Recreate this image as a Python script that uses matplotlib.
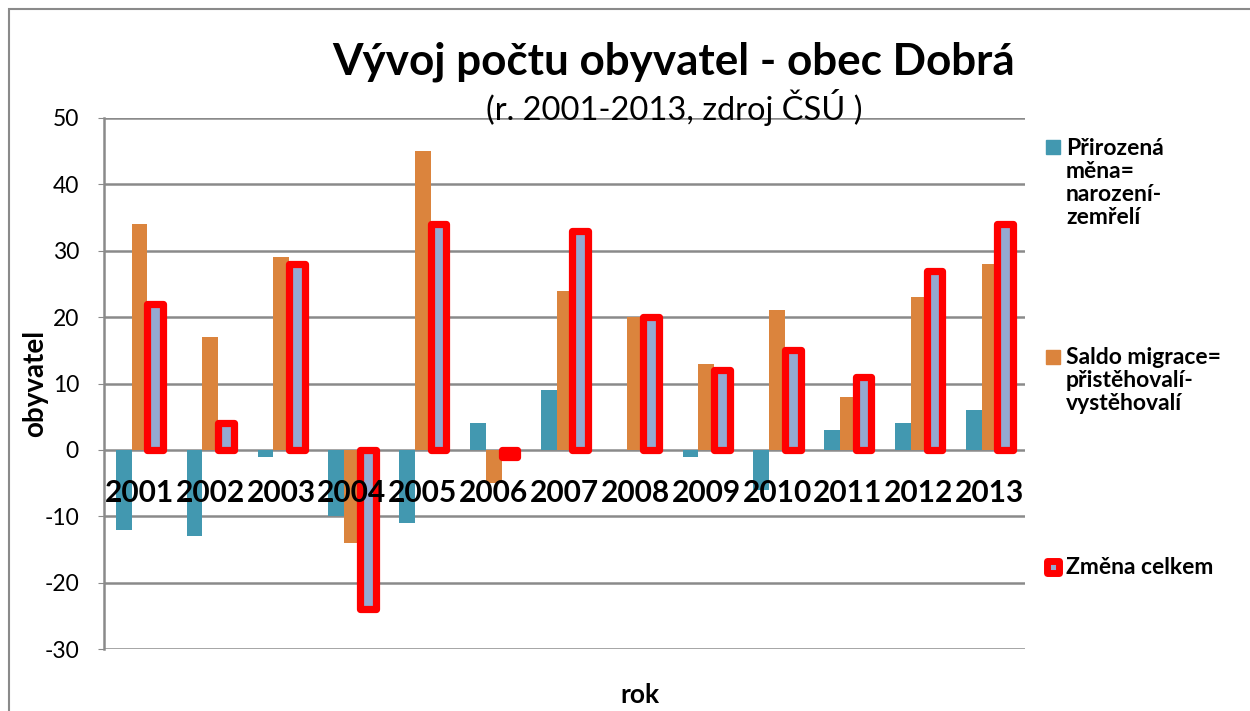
import numpy as np
import matplotlib
matplotlib.use("Agg")
import matplotlib.pyplot as plt
from matplotlib.patches import Rectangle

plt.rcParams["font.family"] = ["Lato", "DejaVu Sans"]
plt.rcParams["axes.unicode_minus"] = False

# data
roky = ["2001", "2002", "2003", "2004", "2005", "2006", "2007",
        "2008", "2009", "2010", "2011", "2012", "2013"]
prirozena = [-12, -13, -1, -10, -11, 4, 9, 0, -1, -6, 3, 4, 6]
saldo = [34, 17, 29, -14, 45, -5, 24, 20, 13, 21, 8, 23, 28]
zmena = [22, 4, 28, -24, 34, -1, 33, 20, 12, 15, 11, 27, 34]

C_TEAL = "#4298B0"
C_ORANGE = "#DB843D"
C_LAV = "#94A9D1"
C_RED = "#FF0000"
C_GRID = "#8A8A8A"

W, H = 1250, 711
fig = plt.figure(figsize=(W / 100, H / 100), dpi=100)

def fx(x):
    return x / W

def fy(y):
    return 1 - y / H

ax = fig.add_axes([fx(104), fy(649), fx(1025) - fx(104), fy(118) - fy(649)])

x = np.arange(len(roky))
w = 0.222
ax.bar(x - w, prirozena, w, color=C_TEAL, zorder=2)
ax.bar(x, saldo, w, color=C_ORANGE, zorder=2)
ax.bar(x + w, zmena, w, color=C_LAV, edgecolor=C_RED, linewidth=5.2,
       joinstyle="round", zorder=3)

ax.set_xlim(-0.5, len(roky) - 0.5)
ax.set_ylim(-30, 50)
ax.set_yticks(np.arange(-30, 51, 10))
ax.yaxis.grid(True, color=C_GRID, linewidth=1.8, zorder=0)
ax.set_axisbelow(True)

for s in ["top", "right", "bottom"]:
    ax.spines[s].set_visible(False)
ax.spines["left"].set_color(C_GRID)
ax.spines["left"].set_linewidth(1.8)

# year labels sit just under the zero line, on top of the bars
ax.set_xticks([])
for i, r in enumerate(roky):
    ax.annotate(r, (i, 0), xytext=(0, -37.5), textcoords="offset points",
                ha="center", va="baseline", fontsize=21.5,
                fontweight="bold", zorder=6)

ax.tick_params(axis="y", labelsize=16.5, length=4, color=C_GRID, pad=14)

ax.set_ylabel("obyvatel", fontsize=20, fontweight="bold", labelpad=-3)
fig.text(fx(640), fy(695), "rok", fontsize=19, fontweight="bold",
         ha="center", va="center")

fig.text(fx(674), fy(62), "Vývoj počtu obyvatel - obec Dobrá",
         fontsize=31.7, fontweight="bold", ha="center", va="center")
fig.text(fx(674), fy(108), "(r. 2001-2013, zdroj ČSÚ )",
         fontsize=23.5, ha="center", va="center")

# legend, drawn by hand to keep the multi-line layout
fig.add_artist(Rectangle((fx(1046), fy(154)), fx(14), fy(140) - fy(154),
                         transform=fig.transFigure, color=C_TEAL))
fig.text(fx(1066), fy(138), "Přirozená\nměna=\nnarození-\nzemřelí",
         fontsize=16.5, fontweight="bold", va="top", linespacing=1.12)
fig.add_artist(Rectangle((fx(1046), fy(364)), fx(14), fy(350) - fy(364),
                         transform=fig.transFigure, color=C_ORANGE))
fig.text(fx(1066), fy(347), "Saldo migrace=\npřistěhovalí-\nvystěhovalí",
         fontsize=16.5, fontweight="bold", va="top", linespacing=1.12)
fig.add_artist(Rectangle((fx(1047), fy(573)), fx(12), fy(561) - fy(573),
                         transform=fig.transFigure, facecolor=C_LAV,
                         edgecolor=C_RED, linewidth=5, joinstyle="round"))
fig.text(fx(1066), fy(568), "Změna celkem",
         fontsize=16.5, fontweight="bold", va="center")

# outer chart frame
fig.add_artist(Rectangle((fx(9), fy(720)), fx(1300), fy(9) - fy(720),
                         transform=fig.transFigure, fill=False,
                         edgecolor=C_GRID, linewidth=1.5))

fig.savefig("out.png", dpi=100)
